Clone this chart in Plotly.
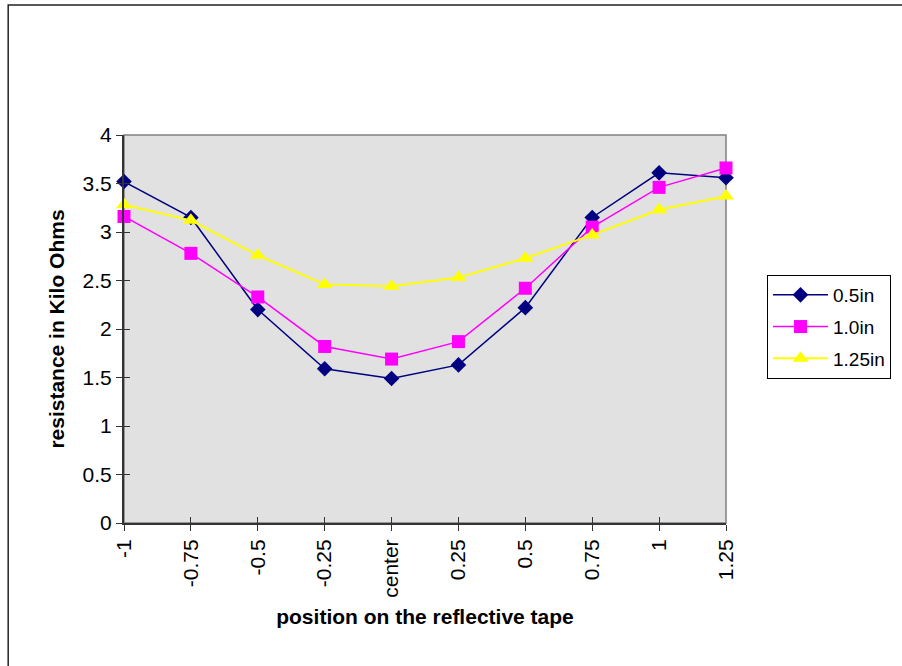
import plotly.graph_objects as go

positions = ["-1", "-0.75", "-0.5", "-0.25", "center", "0.25", "0.5", "0.75", "1", "1.25"]
series_names = ["0.5in", "1.0in", "1.25in"]
vals_05 = [3.52, 3.15, 2.20, 1.59, 1.49, 1.63, 2.22, 3.15, 3.61, 3.56]
vals_10 = [3.16, 2.78, 2.33, 1.82, 1.69, 1.87, 2.42, 3.05, 3.46, 3.66]
vals_125 = [3.28, 3.12, 2.76, 2.46, 2.44, 2.53, 2.73, 2.97, 3.23, 3.37]
y_ticks = [0, 0.5, 1, 1.5, 2, 2.5, 3, 3.5, 4]
y_ticktext = ["0", "0.5", "1", "1.5", "2", "2.5", "3", "3.5", "4"]

colors = ["#000080", "#FF00FF", "#FFFF00"]
symbols = ["diamond", "square", "triangle-up"]
msizes = [12, 13, 14]
lwidths = [1.5, 1.5, 2]

FONT = "Liberation Sans, Arial, sans-serif"

fig = go.Figure()
for name, vals, c, s, ms, lw in zip(series_names, [vals_05, vals_10, vals_125], colors, symbols, msizes, lwidths):
    fig.add_trace(go.Scatter(
        x=positions, y=vals, name=name, mode="lines+markers",
        line=dict(color=c, width=lw),
        marker=dict(symbol=s, size=ms, color=c, line=dict(width=0)),
        cliponaxis=False, legendgroup=name,
    ))

# empty helper trace to create overlay axes for inner half of crossing ticks
fig.add_trace(go.Scatter(x=[], y=[], xaxis="x2", yaxis="y2", showlegend=False, hoverinfo="skip"))

L, R, T, B = 124, 175, 135, 143
W, H = 902, 666
pw = W - L - R
ph = H - T - B

fig.update_layout(
    width=W, height=H,
    margin=dict(l=L, r=R, t=T, b=B, pad=0),
    paper_bgcolor="white",
    plot_bgcolor="#e1e1e1",
    font=dict(family=FONT, size=21, color="black"),
    showlegend=True,
    legend=dict(
        x=(767 - L) / pw, y=(H - B - 275) / ph, xanchor="left", yanchor="top",
        bordercolor="black", borderwidth=1, bgcolor="white",
        font=dict(family=FONT, size=19, color="black"),
        tracegroupgap=4, itemwidth=55,
    ),
    xaxis=dict(
        type="category", categoryorder="array", categoryarray=positions,
        range=[0, len(positions) - 1],
        showgrid=False, zeroline=False,
        showline=True, linecolor="#333333", linewidth=2,
        ticks="outside", ticklen=6, tickcolor="#333333", tickwidth=1,
        tickangle=-90,
        tickfont=dict(family=FONT, size=21, color="black"),
        title=dict(text="<b>position on the reflective tape</b>",
                   font=dict(family=FONT, size=21, color="black"), standoff=13),
    ),
    yaxis=dict(
        range=[0, 4], tickmode="array", tickvals=y_ticks, ticktext=y_ticktext,
        showgrid=False, zeroline=False,
        showline=True, linecolor="#333333", linewidth=2,
        ticks="outside", ticklen=6, tickcolor="#333333", tickwidth=1,
        tickfont=dict(family=FONT, size=21, color="black"),
        title=dict(text="<b>resistance in Kilo Ohms</b>",
                   font=dict(family=FONT, size=21, color="black"), standoff=12),
    ),
    xaxis2=dict(
        overlaying="x", anchor="y", side="bottom", range=[0, len(positions) - 1],
        tickmode="linear", tick0=0, dtick=1,
        ticks="inside", ticklen=6, tickcolor="#333333", tickwidth=1,
        showticklabels=False, showgrid=False, zeroline=False, showline=False,
    ),
    yaxis2=dict(
        overlaying="y", anchor="x", side="left", range=[0, 4],
        tickmode="linear", tick0=0, dtick=0.5,
        ticks="inside", ticklen=6, tickcolor="#333333", tickwidth=1,
        showticklabels=False, showgrid=False, zeroline=False, showline=False,
    ),
    shapes=[
        dict(type="rect", xref="paper", yref="paper", x0=0, x1=1, y0=0, y1=1,
             line=dict(color="#808080", width=1.5), fillcolor="rgba(0,0,0,0)", layer="below"),
        dict(type="rect", xref="paper", yref="paper",
             x0=(8 - L) / pw, x1=(W + 20 - L) / pw,
             y0=(H - B - (H + 20)) / ph, y1=(H - B - 5) / ph,
             line=dict(color="#222222", width=1.5), fillcolor="rgba(0,0,0,0)", layer="below"),
    ],
)

fig.write_html("out.html")
